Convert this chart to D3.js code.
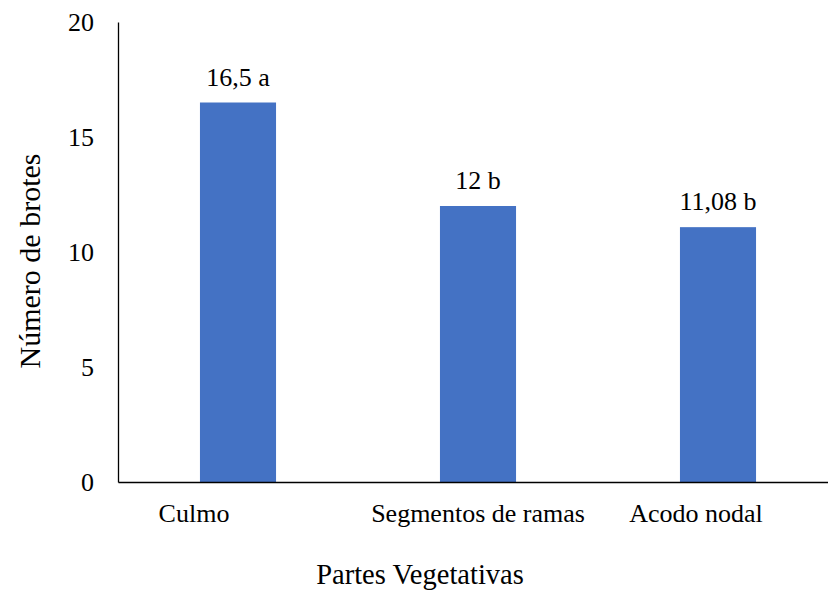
<!DOCTYPE html>
<html>
<head>
<meta charset="utf-8">
<script src="https://cdn.jsdelivr.net/npm/d3@7"></script>
<style>
  html, body { margin: 0; padding: 0; background: #fff; overflow: hidden; }
  svg { display: block; }
</style>
</head>
<body>
<div id="chart"></div>
<script>
const categories = ["Culmo", "Segmentos de ramas", "Acodo nodal"];
const values = [16.5, 12, 11.08];
const valueLabels = ["16,5 a", "12 b", "11,08 b"];
const yTicks = [0, 5, 10, 15, 20];
const xTitle = "Partes Vegetativas";
const yTitle = "Número de brotes";

// layout tweak: label offsets from band centre (px)
const labelShift = [-44, 0, -22];

const W = 828, H = 591;
const FONT = "Liberation Serif";
const m = { left: 118, right: -10, top: 22, bottom: 109 };
const svg = d3.select("#chart").append("svg").attr("width", W).attr("height", H)
  .attr("font-family", FONT).attr("font-size", 26);

const x = d3.scaleBand().domain(categories).range([m.left, W - m.right]).paddingInner(0.683).paddingOuter(0.3415);
const y = d3.scaleLinear().domain([0, 20]).range([H - m.bottom, m.top]);

const fs = 26;

// bars
svg.append("g").selectAll("rect").data(values).join("rect")
  .attr("x", (d, i) => x(categories[i]))
  .attr("width", x.bandwidth())
  .attr("y", d => y(d))
  .attr("height", d => y(0) - y(d))
  .attr("fill", "#4472C4");

// value labels
svg.append("g").attr("font-family", FONT).attr("font-size", fs)
  .selectAll("text").data(values).join("text")
  .attr("x", (d, i) => x(categories[i]) + x.bandwidth() / 2)
  .attr("y", d => y(d) - 17)
  .attr("text-anchor", "middle")
  .attr("fill", "#000")
  .text((d, i) => valueLabels[i]);

// y axis
const yAxis = svg.append("g").attr("transform", `translate(${m.left},0)`)
  .call(d3.axisLeft(y).tickValues(yTicks).tickSize(0).tickPadding(24).tickFormat(d3.format("d")));
yAxis.attr("font-size", fs).attr("font-family", FONT);
yAxis.select(".domain").attr("stroke", "#000").attr("stroke-width", 1.3);
yAxis.selectAll("text").attr("fill", "#000").attr("dy", "0.34em");

// x axis
const xAxis = svg.append("g").attr("transform", `translate(0,${y(0)})`)
  .call(d3.axisBottom(x).tickSize(0).tickPadding(0));
xAxis.attr("font-size", fs).attr("font-family", FONT);
xAxis.select(".domain").attr("stroke", "#000").attr("stroke-width", 1.3);
xAxis.selectAll("text")
  .attr("fill", "#000")
  .attr("dy", 0)
  .attr("y", 40)
  .attr("x", (d, i) => labelShift[i]);

// axis titles
const titles = svg.append("g").attr("font-family", FONT);
titles.append("text")
  .attr("x", 420).attr("y", 584)
  .attr("text-anchor", "middle")
  .attr("font-size", 28.5)
  .attr("fill", "#000")
  .text(xTitle);

titles.append("text")
  .attr("transform", `translate(40,261) rotate(-90)`)
  .attr("text-anchor", "middle")
  .attr("font-size", 30)
  .attr("fill", "#000")
  .text(yTitle);
</script>
</body>
</html>
